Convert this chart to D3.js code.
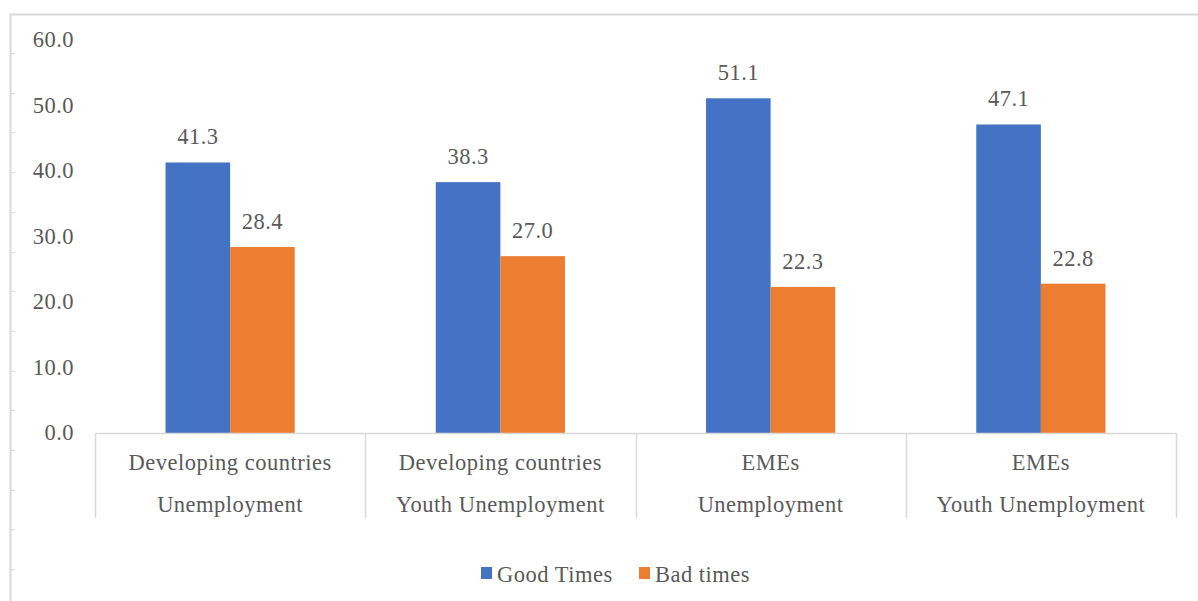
<!DOCTYPE html>
<html>
<head>
<meta charset="utf-8">
<script src="https://cdn.jsdelivr.net/npm/d3@7/dist/d3.min.js"></script>
<style>
  html, body { margin: 0; padding: 0; background: #fff; }
  svg { display: block; }
  text { font-family: "Liberation Serif", "Times New Roman", serif; fill: #595959; letter-spacing: 0.5px; }
</style>
</head>
<body>
<svg id="chart" width="1198" height="601"></svg>
<script>
// Category labels (two lines each) and series values
const categoryTop = ["Developing countries", "Developing countries", "EMEs", "EMEs"];
const categoryBottom = ["Unemployment", "Youth Unemployment", "Unemployment", "Youth Unemployment"];
const seriesNames = ["Good Times", "Bad times"];
const goodTimes = [41.3, 38.3, 51.1, 47.1];
const badTimes = [28.4, 27.0, 22.3, 22.8];
const yTicks = [0, 10, 20, 30, 40, 50, 60];
const colors = ["#4472C4", "#ED7D31"];

const svg = d3.select("#chart");
const W = 1198, H = 601;
const FS = 22.5;

// Outer frame (top and left edges with small tick marks)
const frame = svg.append("g");
frame.append("line").attr("x1", 10).attr("x2", W).attr("y1", 14.5).attr("y2", 14.5)
  .attr("stroke", "#d9d9d9").attr("stroke-width", 2);
frame.append("line").attr("x1", 10.5).attr("x2", 10.5).attr("y1", 14).attr("y2", H)
  .attr("stroke", "#d9d9d9").attr("stroke-width", 2);
d3.range(53, H, 39.7).forEach(y => {
  frame.append("line").attr("x1", 10).attr("x2", 15).attr("y1", Math.round(y) + 0.5).attr("y2", Math.round(y) + 0.5)
    .attr("stroke", "#d9d9d9").attr("stroke-width", 1);
});

const plot = { left: 95, right: 1176, top: 40, bottom: 433 };

const x0 = d3.scaleBand().domain(d3.range(categoryTop.length))
  .range([plot.left, plot.right]).paddingInner(0).paddingOuter(0);
const groupWidth = x0.bandwidth() * 0.478;
const x1 = d3.scaleBand().domain(d3.range(seriesNames.length)).range([0, groupWidth]);
const y = d3.scaleLinear().domain([0, 60]).range([plot.bottom, plot.top]);

// Y axis labels (no line, no gridlines)
const yAxis = d3.axisLeft(y).tickValues(yTicks).tickFormat(d3.format(".1f")).tickSize(0).tickPadding(0);
const yg = svg.append("g").attr("transform", `translate(${74},0)`).call(yAxis);
yg.select(".domain").remove();
yg.selectAll("text").attr("font-size", FS).attr("fill", "#595959").attr("dy", "0.3em")
  .style("font-family", '"Liberation Serif", serif');

// Bars
const series = [goodTimes, badTimes];
series.forEach((vals, si) => {
  const g = svg.append("g");
  g.selectAll("rect").data(vals).join("rect")
    .attr("x", (d, i) => x0(i) + (x0.bandwidth() - groupWidth) / 2 + x1(si))
    .attr("width", x1.bandwidth())
    .attr("y", d => y(d))
    .attr("height", d => y(0) - y(d))
    .attr("fill", colors[si]);
  g.selectAll("text").data(vals).join("text")
    .attr("x", (d, i) => x0(i) + (x0.bandwidth() - groupWidth) / 2 + x1(si) + x1.bandwidth() / 2)
    .attr("y", d => y(d) - 18)
    .attr("text-anchor", "middle")
    .attr("font-size", FS)
    .text(d => d.toFixed(1));
});

// Category axis: baseline and separators
const axisColor = "#d9d9d9";
svg.append("line").attr("x1", plot.left).attr("x2", plot.right)
  .attr("y1", plot.bottom + 0.5).attr("y2", plot.bottom + 0.5)
  .attr("stroke", axisColor).attr("stroke-width", 1.5);
const seps = d3.range(categoryTop.length + 1).map(i => i < categoryTop.length ? x0(i) : plot.right);
svg.selectAll(".sep").data(seps).join("line").attr("class", "sep")
  .attr("x1", d => Math.round(d) + 0.5).attr("x2", d => Math.round(d) + 0.5)
  .attr("y1", plot.bottom).attr("y2", 518)
  .attr("stroke", axisColor).attr("stroke-width", 1.5);

const cat = svg.append("g");
cat.selectAll(".c1").data(categoryTop).join("text").attr("class", "c1")
  .attr("x", (d, i) => x0(i) + x0.bandwidth() / 2).attr("y", 470)
  .attr("text-anchor", "middle").attr("font-size", FS).text(d => d);
cat.selectAll(".c2").data(categoryBottom).join("text").attr("class", "c2")
  .attr("x", (d, i) => x0(i) + x0.bandwidth() / 2).attr("y", 512)
  .attr("text-anchor", "middle").attr("font-size", FS).text(d => d);

// Legend
const legendX = [481, 639];
const leg = svg.append("g");
seriesNames.forEach((name, i) => {
  leg.append("rect").attr("x", legendX[i]).attr("y", 567).attr("width", 11).attr("height", 12).attr("fill", colors[i]);
  leg.append("text").attr("x", legendX[i] + 16).attr("y", 582).attr("font-size", FS).text(name);
});
</script>
</body>
</html>
